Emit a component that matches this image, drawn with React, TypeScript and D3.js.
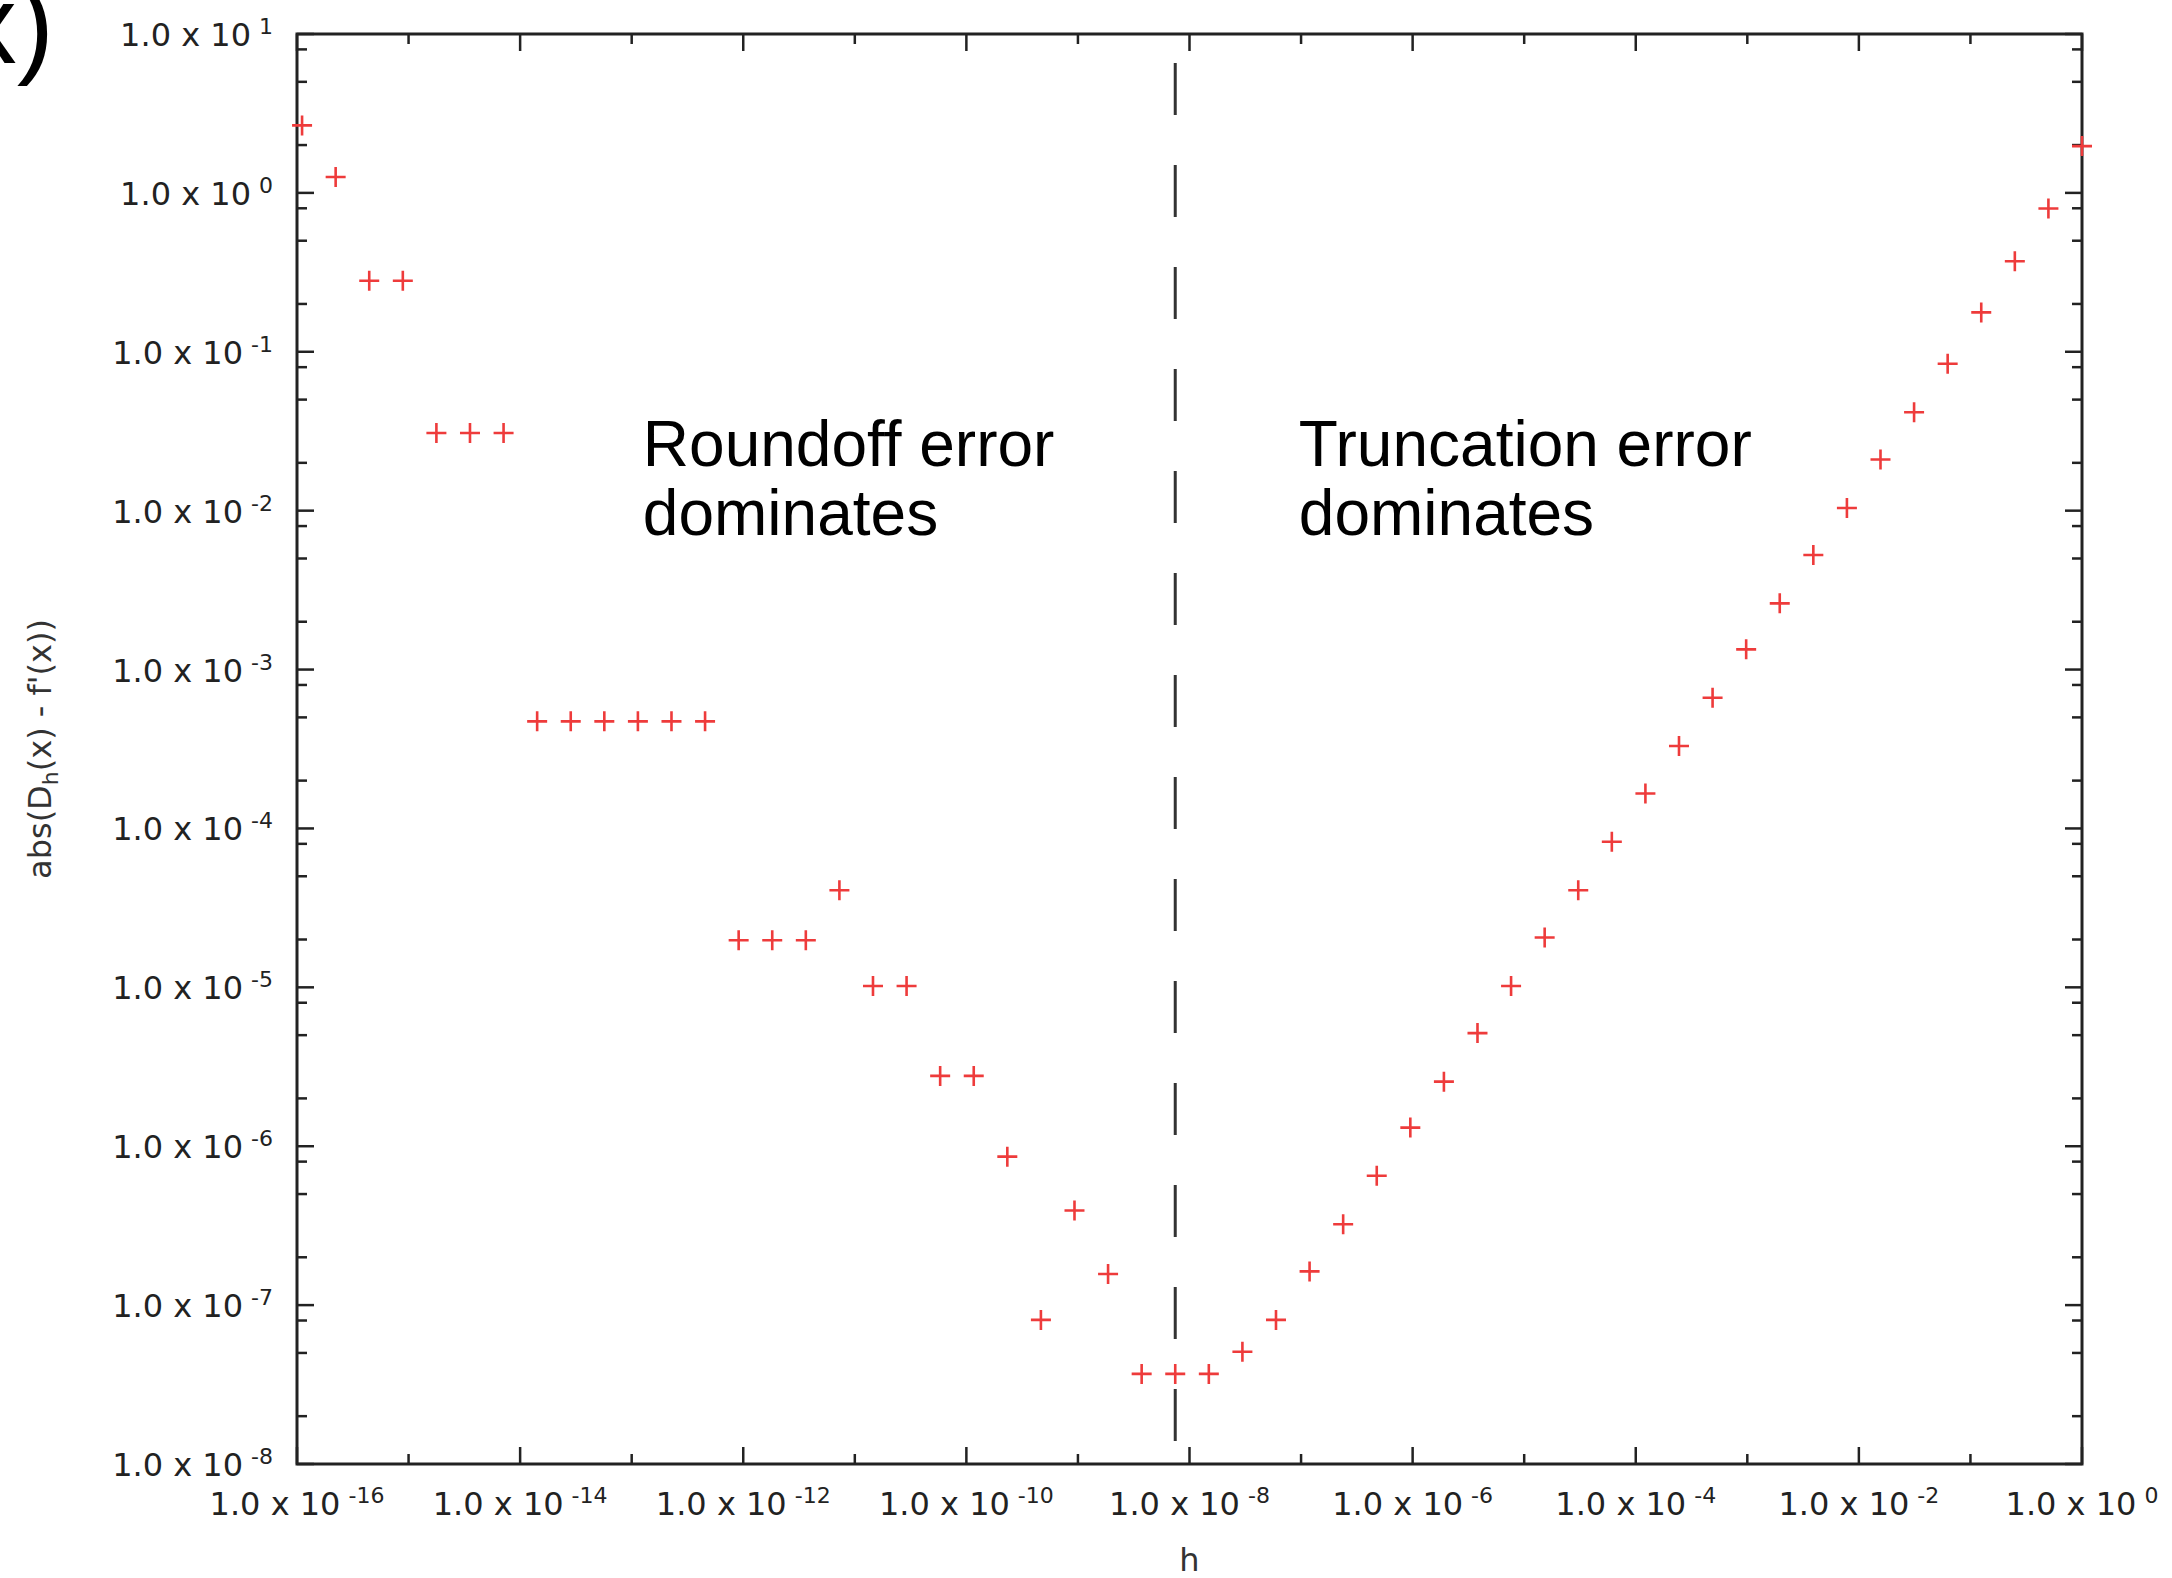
import * as d3 from "d3"

// step sizes h = 2^p (one per 0.301 decade)
const hPow2 = [
  -53, -52, -51, -50, -49, -48, -47, -46, -45, -44, -43, -42, -41, -40, -39, -38, -37, -36,
  -35, -34, -33, -32, -31, -30, -29, -28, -27, -26, -25, -24, -23, -22, -21, -20, -19, -18,
  -17, -16, -15, -14, -13, -12, -11, -10, -9, -8, -7, -6, -5, -4, -3, -2, -1, 0,
]

// abs(D_h(x) - f'(x)) for each h
const errValues = [
  2.66, 1.26, 0.28, 0.28, 0.0308, 0.0308, 0.0308, 4.72e-4, 4.72e-4, 4.72e-4, 4.72e-4, 4.72e-4,
  4.72e-4, 1.98e-5, 1.98e-5, 1.98e-5, 4.08e-5, 1.02e-5, 1.02e-5, 2.77e-6, 2.77e-6, 8.6e-7,
  8.07e-8, 3.94e-7, 1.57e-7, 3.69e-8, 3.69e-8, 3.69e-8, 5.09e-8, 8.07e-8, 1.63e-7, 3.23e-7,
  6.52e-7, 1.31e-6, 2.55e-6, 5.15e-6, 1.02e-5, 2.06e-5, 4.08e-5, 8.24e-5, 1.66e-4, 3.3e-4,
  6.65e-4, 1.34e-3, 2.61e-3, 5.26e-3, 1.04e-2, 2.1e-2, 4.16e-2, 8.4e-2, 0.177, 0.371, 0.797,
  1.97,
]

const xTickExps = [-16, -14, -12, -10, -8, -6, -4, -2, 0]
const xMinorExps = [-15, -13, -11, -9, -7, -5, -3, -1]
const yTickExps = [1, 0, -1, -2, -3, -4, -5, -6, -7, -8]
const yMinorMult = [2, 5, 8]

const dividerPow2 = -27
// annotation anchors: log10(h) of left edge, error value of first baseline
const annotations = [
  { lines: ["Roundoff error", "dominates"], logH: -12.9, err: 0.019 },
  { lines: ["Truncation error", "dominates"], logH: -7.02, err: 0.019 },
]

const W = 2172
const H = 1578
const margin = { top: 34, right: 90, bottom: 114, left: 297 }

const App = () => {
  const x = d3
    .scaleLog()
    .domain([1e-16, 1])
    .range([margin.left, W - margin.right])
  const y = d3
    .scaleLog()
    .domain([1e-8, 10])
    .range([H - margin.bottom, margin.top])

  const [x0, x1] = x.range()
  const [y0, y1] = y.range()
  const axisColor = "#222"
  const labelFont = "DejaVu Sans, sans-serif"

  const points = hPow2.map((p, i) => ({ h: Math.pow(2, p), e: errValues[i] }))

  const yMinor: number[] = []
  yTickExps.forEach(e => {
    if (e > -8) yMinorMult.forEach(m => yMinor.push(m * Math.pow(10, e - 1)))
  })

  const majorLen = 17
  const minorLen = 10

  const supLabel = (e: number) => (
    <>
      1.0 x 10
      <tspan fontSize={22} dx={8} dy={-12}>
        {e < 0 ? `-${-e}` : `${e}`}
      </tspan>
    </>
  )

  const xDiv = x(Math.pow(2, dividerPow2))

  return (
    <div style={{ position: "absolute", left: 0, top: 0, width: W, height: H, overflow: "hidden" }}>
      <svg width={W} height={H} style={{ display: "block", background: "#fff" }}>
        {/* clipped title fragment at top left */}
        <text
          x={54}
          y={63}
          textAnchor="end"
          fontFamily="Liberation Sans, Arial, sans-serif"
          fontSize={112}
          fill="#000"
        >
          (x)
        </text>

        {/* x ticks, bottom and top */}
        {xTickExps.map(e => (
          <g key={`xt${e}`} stroke={axisColor} strokeWidth={2.5}>
            <line x1={x(Math.pow(10, e))} x2={x(Math.pow(10, e))} y1={y0} y2={y0 - majorLen} />
            <line x1={x(Math.pow(10, e))} x2={x(Math.pow(10, e))} y1={y1} y2={y1 + majorLen} />
          </g>
        ))}
        {xMinorExps.map(e => (
          <g key={`xm${e}`} stroke={axisColor} strokeWidth={2.5}>
            <line x1={x(Math.pow(10, e))} x2={x(Math.pow(10, e))} y1={y0} y2={y0 - minorLen} />
            <line x1={x(Math.pow(10, e))} x2={x(Math.pow(10, e))} y1={y1} y2={y1 + minorLen} />
          </g>
        ))}

        {/* y ticks, left and right */}
        {yTickExps.map(e => (
          <g key={`yt${e}`} stroke={axisColor} strokeWidth={2.5}>
            <line x1={x0} x2={x0 + majorLen} y1={y(Math.pow(10, e))} y2={y(Math.pow(10, e))} />
            <line x1={x1} x2={x1 - majorLen} y1={y(Math.pow(10, e))} y2={y(Math.pow(10, e))} />
          </g>
        ))}
        {yMinor.map((v, i) => (
          <g key={`ym${i}`} stroke={axisColor} strokeWidth={2.5}>
            <line x1={x0} x2={x0 + minorLen} y1={y(v)} y2={y(v)} />
            <line x1={x1} x2={x1 - minorLen} y1={y(v)} y2={y(v)} />
          </g>
        ))}

        {/* frame */}
        <rect
          x={x0}
          y={y1}
          width={x1 - x0}
          height={y0 - y1}
          fill="none"
          stroke={axisColor}
          strokeWidth={3}
        />

        {/* tick labels */}
        {xTickExps.map(e => (
          <text
            key={`xl${e}`}
            x={x(Math.pow(10, e))}
            y={y0 + 51}
            textAnchor="middle"
            fontFamily={labelFont}
            fontSize={32}
            fill="#222"
          >
            {supLabel(e)}
          </text>
        ))}
        {yTickExps.map(e => (
          <text
            key={`yl${e}`}
            x={x0 - 24}
            y={y(Math.pow(10, e)) + 12}
            textAnchor="end"
            fontFamily={labelFont}
            fontSize={32}
            fill="#222"
          >
            {supLabel(e)}
          </text>
        ))}

        {/* axis titles */}
        <text
          x={(x0 + x1) / 2}
          y={H - 7}
          textAnchor="middle"
          fontFamily={labelFont}
          fontSize={32}
          fill="#333"
        >
          h
        </text>
        <text
          transform={`translate(51,${(y0 + y1) / 2}) rotate(-90)`}
          textAnchor="middle"
          fontFamily={labelFont}
          fontSize={32}
          fill="#333"
        >
          abs(D
          <tspan fontSize={22} dy={7}>
            h
          </tspan>
          <tspan dy={-7}>(x) - f'(x))</tspan>
        </text>

        {/* divider between the two regimes */}
        <line
          x1={xDiv}
          x2={xDiv}
          y1={y1 + 29}
          y2={y0 - 17}
          stroke="#333"
          strokeWidth={3}
          strokeDasharray="52,50"
        />

        {/* annotations */}
        {annotations.map((a, i) => {
          const ax = x(Math.pow(10, a.logH))
          return (
            <text
              key={`an${i}`}
              x={ax}
              y={y(a.err)}
              fontFamily="Liberation Sans, Arial, sans-serif"
              fontSize={64}
              fill="#000"
            >
              {a.lines.map((l, j) => (
                <tspan key={j} x={ax} dy={j === 0 ? 0 : 69}>
                  {l}
                </tspan>
              ))}
            </text>
          )
        })}

        {/* data markers */}
        {points.map((d, i) => (
          <path
            key={`p${i}`}
            transform={`translate(${x(d.h)},${y(d.e)})`}
            d="M-10,0H10M0,-10V10"
            stroke="#ee3b3b"
            strokeWidth={2.6}
            fill="none"
          />
        ))}
      </svg>
    </div>
  )
}

export default App
